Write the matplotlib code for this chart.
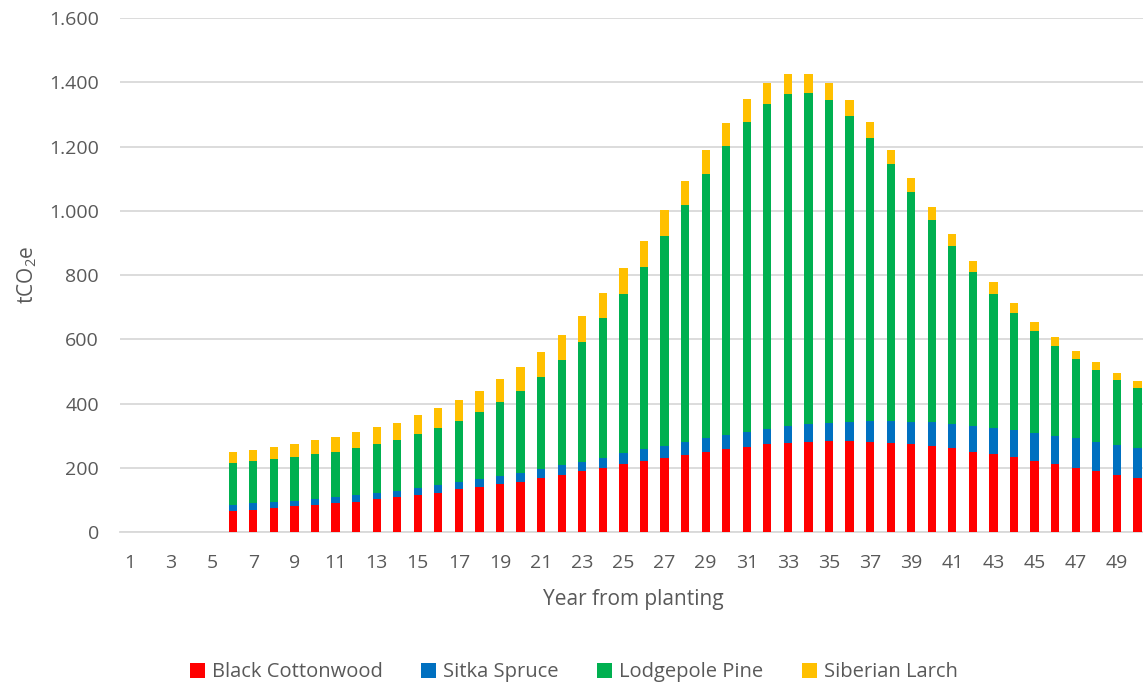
import matplotlib.pyplot as plt
import numpy as np
from matplotlib.ticker import FuncFormatter, MultipleLocator

plt.rcParams["font.family"] = ["Open Sans", "DejaVu Sans"]
plt.rcParams["mathtext.fontset"] = "custom"
plt.rcParams["mathtext.rm"] = "Open Sans"
plt.rcParams["mathtext.it"] = "Open Sans"

# 树龄 1-50 年
years = np.arange(1, 51)

black_cottonwood = [0, 0, 0, 0, 0,
                    66, 70, 76, 80, 85, 89, 95, 102, 108, 114,
                    122, 133, 141, 150, 157, 167, 178, 189, 199, 211,
                    221, 230, 241, 250, 260, 266, 273, 277, 281, 283,
                    283, 281, 277, 273, 267, 261, 250, 243, 234, 222,
                    211, 200, 189, 178, 167]
sitka_spruce = [0, 0, 0, 0, 0,
                19, 19, 17, 18, 18, 19, 19, 20, 20, 23,
                24, 22, 23, 25, 26, 28, 30, 30, 32, 34,
                36, 39, 39, 43, 43, 46, 48, 52, 54, 57,
                61, 65, 69, 71, 75, 76, 79, 82, 83, 87,
                88, 92, 92, 93, 94]
lodgepole_pine = [0, 0, 0, 0, 0,
                  130, 131, 134, 135, 140, 142, 148, 153, 158, 167,
                  178, 191, 209, 229, 257, 287, 328, 374, 434, 497,
                  569, 651, 739, 820, 898, 965, 1012, 1034, 1033, 1004,
                  950, 880, 800, 714, 628, 554, 480, 417, 364, 316,
                  281, 248, 223, 202, 188]
siberian_larch = [0, 0, 0, 0, 0,
                  34, 35, 38, 40, 42, 46, 49, 52, 54, 60,
                  63, 65, 67, 71, 74, 79, 78, 81, 79, 81,
                  80, 81, 75, 76, 73, 71, 65, 63, 58, 55,
                  51, 49, 44, 43, 42, 37, 35, 35, 31, 30,
                  27, 24, 26, 23, 21]

series = [
    ("Black Cottonwood", black_cottonwood, "#FF0000"),
    ("Sitka Spruce", sitka_spruce, "#0070C0"),
    ("Lodgepole Pine", lodgepole_pine, "#00B050"),
    ("Siberian Larch", siberian_larch, "#FFC000"),
]

fig = plt.figure(figsize=(11.43, 6.88), dpi=100)
ax = fig.add_axes([0.1047, 0.2267, 0.8994, 0.7471])

bottom = np.zeros(len(years))
for name, vals, color in series:
    vals = np.array(vals, dtype=float)
    ax.bar(years, vals, width=0.4, bottom=bottom, color=color, label=name,
           linewidth=0, zorder=3)
    bottom += vals

ax.set_xlim(0.5, 50.5)
ax.set_ylim(0, 1600)
ax.yaxis.set_major_locator(MultipleLocator(200))
ax.yaxis.set_major_formatter(FuncFormatter(lambda v, p: f"{v:,.0f}".replace(",", ".")))
ax.set_xticks(years[::2])

ax.grid(axis="y", color="#D9D9D9", linewidth=1.3, zorder=0)
for s in ["top", "right", "left"]:
    ax.spines[s].set_visible(False)
ax.spines["bottom"].set_color("#D9D9D9")
ax.spines["bottom"].set_linewidth(1.3)
ax.tick_params(axis="both", length=0, labelsize=14, labelcolor="#595959")
ax.tick_params(axis="y", pad=15)
ax.tick_params(axis="x", pad=16)

ax.set_xlabel("Year from planting", fontsize=15, color="#595959", labelpad=12)
ax.set_ylabel("tCO$_2$e", fontsize=15, color="#595959", labelpad=7)

fig.legend(loc="center", bbox_to_anchor=(0.502, 0.023), ncol=4, frameon=False,
           fontsize=14.5, labelcolor="#595959", handlelength=0.75, handleheight=0.75,
           handletextpad=0.35, columnspacing=1.9)

fig.savefig("out.png", dpi=100)
